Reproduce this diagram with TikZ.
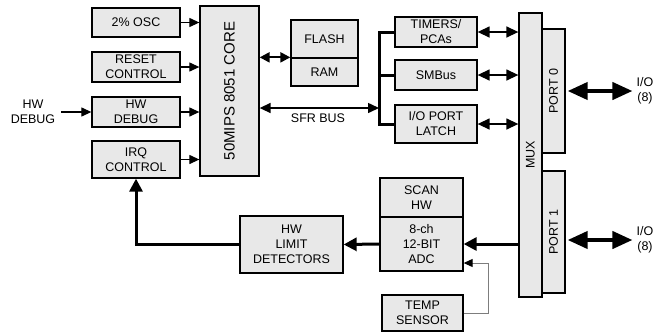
\documentclass[tikz,border=0pt]{standalone}
\usepackage{fontspec}
\setmainfont{Liberation Sans}
\usetikzlibrary{positioning,arrows.meta}
\definecolor{BoxGray}{RGB}{232,232,232}
\definecolor{WireGray}{RGB}{125,125,125}

\begin{document}
\begin{tikzpicture}[x=1pt, y=-1pt,
    every node/.style={font=\fontsize{12.5}{15}\selectfont, align=center, inner sep=0pt},
    blk/.style={draw, fill=BoxGray, line width=1.3pt},
    thinarr/.style={line width=1.2pt, -{Triangle[length=10pt,width=9pt]}},
    thindbl/.style={line width=1.4pt, {Triangle[length=12pt,width=11pt]}-{Triangle[length=12pt,width=11pt]}},
    memdbl/.style={line width=2.2pt, {Triangle[length=10pt,width=10pt]}-{Triangle[length=10pt,width=10pt]}},
    fatarr/.style={line width=3pt, -{Triangle[length=13pt,width=13pt]}},
    iodbl/.style={line width=4pt, {Triangle[length=20pt,width=17pt]}-{Triangle[length=20pt,width=17pt]}}]
  \useasboundingbox (0,0) rectangle (668,333);

  % left column
  \node[blk, minimum width=88pt, minimum height=29pt] (osc)   at (136,22.5) {2\% OSC};
  \node[blk, minimum width=88pt, minimum height=30pt] (rst)   at (136,67)   {RESET\\CONTROL};
  \node[blk, minimum width=88pt, minimum height=30pt] (hwdbg) at (136,112)  {HW\\DEBUG};
  \node[blk, minimum width=88pt, minimum height=37pt] (irq)   at (136,159.5) {IRQ\\CONTROL};
  \node (dbgin) at (33,112) {HW\\DEBUG};

  % core and memory
  \node[blk, minimum width=59pt, minimum height=170pt,
        label={[rotate=90, font=\fontsize{15}{17}\selectfont]center:50MIPS 8051 CORE}] (core) at (229.5,91) {};
  \node[blk, minimum width=67pt, minimum height=38pt] (flash) at (324.5,39) {FLASH};
  \node[blk, minimum width=67pt, minimum height=28pt] (ram)   at (324.5,72) {RAM};

  % peripherals on the SFR bus
  \node[blk, minimum width=82pt, minimum height=30pt] (timers) at (436,32)  {TIMERS/\\PCAs};
  \node[blk, minimum width=82pt, minimum height=30pt] (smbus)  at (436,75)  {SMBus};
  \node[blk, minimum width=82pt, minimum height=38pt] (latch)  at (436,124) {I/O PORT\\LATCH};
  \coordinate (sfr) at (379,108);
  \node (sfrlbl) at (318,118) {SFR BUS};

  % mux and ports
  \node[blk, minimum width=23pt, minimum height=284pt,
        label={[rotate=90]center:MUX}] (mux) at (530.5,155) {};
  \node[blk, minimum width=23pt, minimum height=124pt,
        label={[rotate=90]center:PORT 0}] (port0) at (553.5,91) {};
  \node[blk, minimum width=23pt, minimum height=122pt,
        label={[rotate=90]center:PORT 1}] (port1) at (553.5,232) {};
  \node (io0) at (645,91)  {I/O\\(8)};
  \node (io1) at (645,240) {I/O\\(8)};

  % analog side
  \node[blk, minimum width=83pt, minimum height=39pt] (scan)  at (421.5,197.5) {SCAN\\HW};
  \node[blk, minimum width=83pt, minimum height=54pt] (adc)   at (421.5,244)   {8-ch\\12-BIT\\ADC};
  \node[blk, minimum width=81pt, minimum height=36pt] (temp)  at (422.5,313)   {TEMP\\SENSOR};
  \node[blk, minimum width=103pt, minimum height=57pt] (hwlim) at (291.5,244.5) {HW\\LIMIT\\DETECTORS};
  \coordinate (tsbend) at (488,263);

  % connectors
  \draw[thinarr] (osc.east) -- (osc.east -| core.west);
  \draw[thinarr] (rst.east) -- (rst.east -| core.west);
  \draw[thinarr] (hwdbg.east) -- (hwdbg.east -| core.west);
  \draw[thinarr] (irq.east) -- (irq.east -| core.west);
  \draw[thinarr, shorten <=6pt] (dbgin.east |- hwdbg.west) -- (hwdbg.west);
  \draw[memdbl] (core.east |- ram.north) -- (ram.north west);
  \draw[line width=1.5pt, {Triangle[length=11pt,width=10pt]}-{Triangle[length=11pt,width=10pt]}]
    (sfr -| core.east) -- (sfr);
  \draw[line width=3pt] (timers.west) -- (timers.west -| sfr) -- (latch.west -| sfr) -- (latch.west);
  \draw[line width=3pt] (smbus.west) -- (smbus.west -| sfr);
  \draw[thindbl] (timers.east) -- (timers.east -| mux.west);
  \draw[thindbl] (smbus.east) -- (smbus.east -| mux.west);
  \draw[thindbl] (latch.east) -- (latch.east -| mux.west);
  \draw[iodbl, shorten <=2pt, shorten >=4pt] (port0.east) -- (port0.east -| io0.west);
  \draw[iodbl, shorten <=2pt, shorten >=4pt] (port1.east |- io1.west) -- (io1.west);
  \draw[fatarr] (mux.west |- adc.east) -- (adc.east);
  \draw[fatarr] (adc.west) -- (hwlim.east);
  \draw[fatarr] (hwlim.west) -| (irq.south);
  \draw[WireGray, line width=1pt, -{Triangle[length=9pt,width=8pt,color=black]}]
    (temp.east) -| (tsbend) -- (tsbend -| adc.east);
\end{tikzpicture}
\end{document}
